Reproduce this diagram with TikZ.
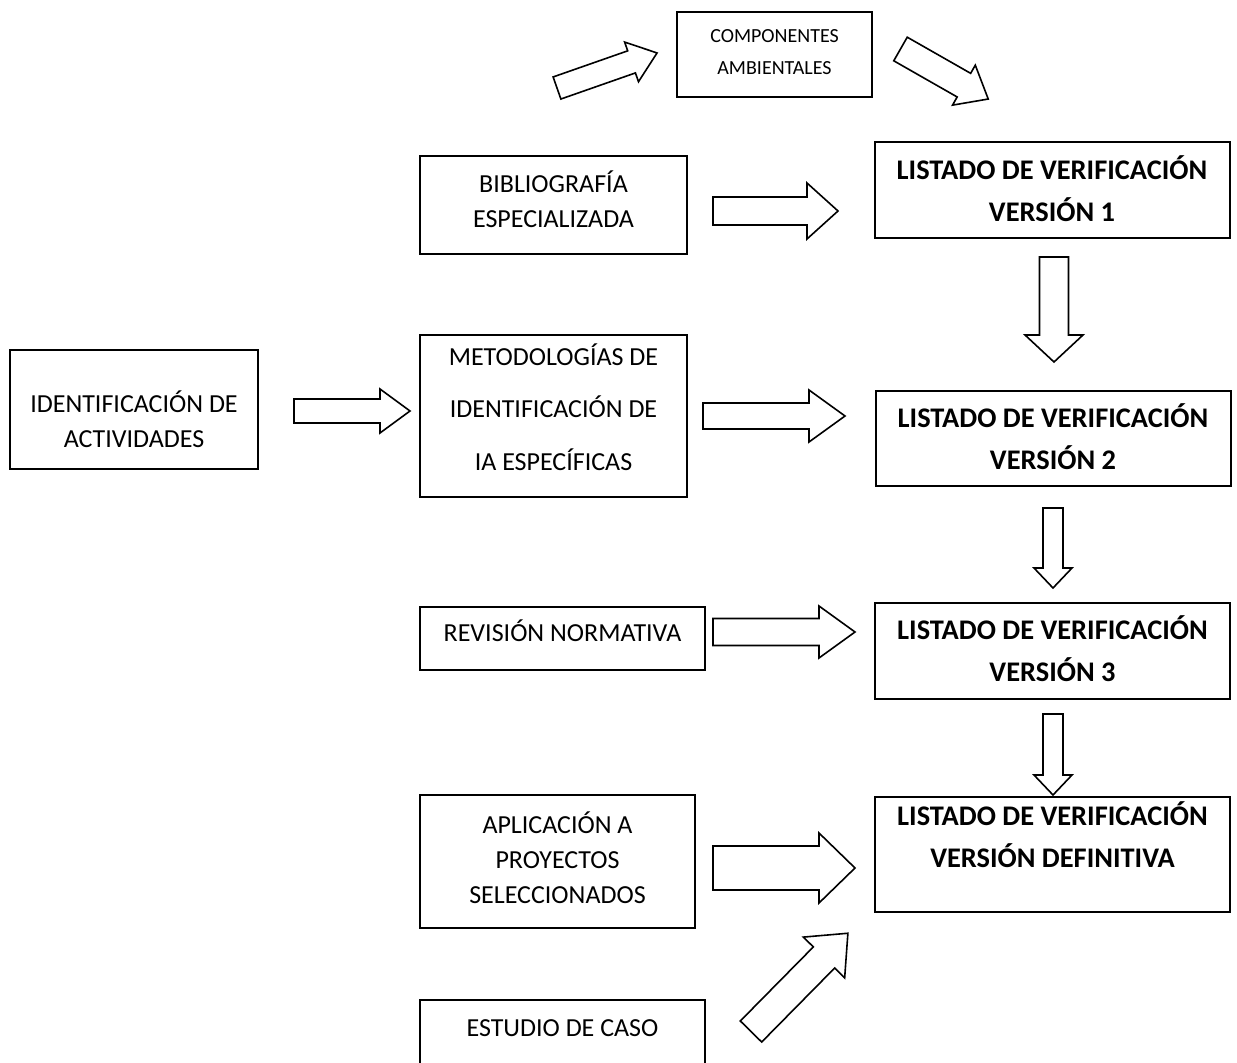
\documentclass[tikz,border=0pt]{standalone}
\usepackage{fontspec}
\setmainfont{Carlito}
\newcommand{\bigArrow}[6]{% tail, angle, length, shaft half, head half, head length
  \draw[block arrow, shift={#1}, rotate=#2]
    (0,-#4) -- ({#3-#6},-#4) -- ({#3-#6},-#5) -- (#3,0)
    -- ({#3-#6},#5) -- ({#3-#6},#4) -- (0,#4) -- cycle;
}

\begin{document}
\begin{tikzpicture}[x=0.5pt, y=-0.5pt]
  \tikzset{
    box/.style={draw, line width=1pt, align=center, inner sep=0pt,
      text depth=0pt, font=\fontsize{13}{17.5}\selectfont},
    listbox/.style={box, minimum width=177.5pt,
      font=\fontsize{14.2}{21}\selectfont\bfseries},
    block arrow/.style={draw, line width=0.8pt, fill=white, line join=miter}
  }
  \useasboundingbox (0,0) rectangle (1237,1063);

  % sources
  \node[box, text height=19.8pt, font=\fontsize{10}{16}\selectfont,
    minimum width=97.5pt, minimum height=42.5pt] (comp) at (774.5,54.5) {COMPONENTES\\AMBIENTALES};
  \node[box, minimum width=133.5pt, minimum height=49pt, text height=22.7pt] (bib) at (553.5,205) {BIBLIOGRAF\'IA\\ESPECIALIZADA};
  \node[box, minimum width=124pt, minimum height=59.5pt, text height=38.2pt] (ident) at (134,409.5) {IDENTIFICACI\'ON DE\\ACTIVIDADES};
  \node[box, minimum width=133.5pt, minimum height=81pt, text height=54.2pt,
    font=\fontsize{13}{26.25}\selectfont] (metod) at (553.5,416) {METODOLOG\'IAS DE\\IDENTIFICACI\'ON DE\\IA ESPEC\'IFICAS};
  \node[box, minimum width=142.5pt, minimum height=31.5pt, text height=2.7pt] (rev) at (562.5,638.5) {REVISI\'ON NORMATIVA};
  \node[box, minimum width=137.5pt, minimum height=66.5pt, text height=41.7pt] (aplic) at (557.5,861.5) {APLICACI\'ON A\\PROYECTOS\\SELECCIONADOS};
  \node[box, minimum width=142.5pt, minimum height=50pt, text height=8.2pt, text depth=22pt] (caso) at (562.5,1050) {ESTUDIO DE CASO};

  % versions
  \node[listbox, minimum height=48pt, text height=31.9pt] (v1) at (1052,190) {LISTADO DE VERIFICACI\'ON\\VERSI\'ON 1};
  \node[listbox, minimum height=47.5pt, text height=31.4pt] (v2) at (1053,438.5) {LISTADO DE VERIFICACI\'ON\\VERSI\'ON 2};
  \node[listbox, minimum height=48pt, text height=30.9pt] (v3) at (1052.5,651) {LISTADO DE VERIFICACI\'ON\\VERSI\'ON 3};
  \node[listbox, minimum height=57.5pt, text height=13.4pt] (def) at (1052.5,854.5) {LISTADO DE VERIFICACI\'ON\\VERSI\'ON DEFINITIVA};

  % block arrows
  \bigArrow{(557,88)}{19.3}{106}{11.7}{21}{27}
  \bigArrow{(900.5,49)}{-29.7}{101}{13.6}{23}{28}
  \bigArrow{(713,211)}{0}{125}{14}{28}{31}
  \bigArrow{(1054,257)}{-90}{105}{14.5}{29}{27}
  \bigArrow{(294,411)}{0}{116}{12}{22}{30}
  \bigArrow{(703,416)}{0}{142}{13}{26}{36}
  \bigArrow{(1053,508)}{-90}{80}{10}{19}{20}
  \bigArrow{(713,632)}{0}{142}{13.5}{26}{36}
  \bigArrow{(1053,714)}{-90}{81}{10}{19}{20}
  \bigArrow{(713,868)}{0}{142}{22}{35}{36}
  \bigArrow{(751,1031.5)}{45.4}{138}{15}{29}{34}
\end{tikzpicture}
\end{document}
